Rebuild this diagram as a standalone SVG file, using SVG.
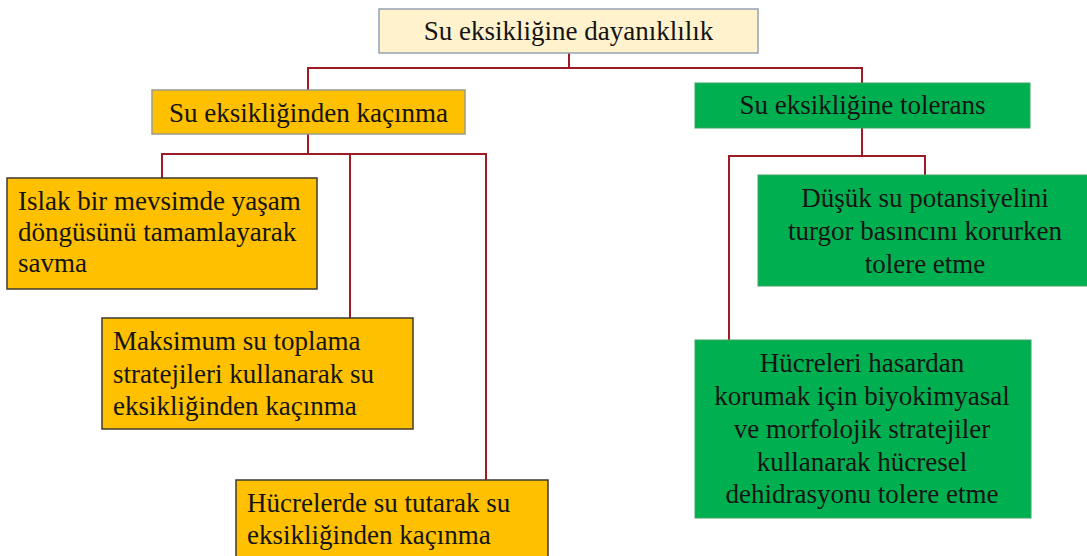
<svg xmlns="http://www.w3.org/2000/svg" width="1087" height="556" viewBox="0 0 1087 556">
<style>
text{font-family:"Liberation Serif","Times New Roman",serif;font-size:27px;fill:#141414}
.c{text-anchor:middle}
.org{fill:#FFC000;stroke:#3F3A30;stroke-width:1.5}
.grn{fill:#00B050;stroke:#3DA565;stroke-width:1}
.conn{fill:none;stroke:#9E1B25;stroke-width:2}
</style>
<rect width="1087" height="556" fill="#ffffff"/>
<g id="connectors" class="conn">
<path d="M569 53 V68 M308 90 V68 H862 V83"/>
<path d="M308 134 V154 M162 178 V154 H486 V480 M350 154 V318"/>
<path d="M862 128 V156 M729 340 V156 H925 V175"/>
</g>
<g id="root">
<rect x="379" y="9" width="379" height="44" fill="#FFF2CC" stroke="#95A3B3" stroke-width="1.5"/>
<text class="c" x="568.5" y="40">Su eksikliğine dayanıklılık</text>
</g>
<g id="avoidance">
<rect x="152" y="90" width="313" height="44" fill="#FFC000" stroke="#9C9A8A" stroke-width="1.5"/>
<text class="c" x="308.5" y="122">Su eksikliğinden kaçınma</text>
</g>
<g id="tolerance">
<rect class="grn" x="695" y="83" width="335" height="45"/>
<text class="c" x="862.5" y="114">Su eksikliğine tolerans</text>
</g>
<g id="avoid1">
<rect class="org" x="7" y="178" width="310" height="111"/>
<text x="18" y="210">Islak bir mevsimde yaşam</text>
<text x="18" y="241">döngüsünü tamamlayarak</text>
<text x="18" y="272">savma</text>
</g>
<g id="avoid2">
<rect class="org" x="102" y="318" width="311" height="111"/>
<text x="113" y="350">Maksimum su toplama</text>
<text x="113" y="383">stratejileri kullanarak su</text>
<text x="113" y="415">eksikliğinden kaçınma</text>
</g>
<g id="avoid3">
<rect class="org" x="236" y="480" width="312" height="85"/>
<text x="247" y="512">Hücrelerde su tutarak su</text>
<text x="247" y="544">eksikliğinden kaçınma</text>
</g>
<g id="tol1">
<rect class="grn" x="758" y="175" width="335" height="111"/>
<text class="c" x="925" y="207">Düşük su potansiyelini</text>
<text class="c" x="925" y="240">turgor basıncını korurken</text>
<text class="c" x="925" y="273">tolere etme</text>
</g>
<g id="tol2">
<rect class="grn" x="695" y="340" width="336" height="178"/>
<text class="c" x="862" y="372">Hücreleri hasardan</text>
<text class="c" x="862" y="405">korumak için biyokimyasal</text>
<text class="c" x="862" y="438">ve morfolojik stratejiler</text>
<text class="c" x="862" y="471">kullanarak hücresel</text>
<text class="c" x="862" y="503">dehidrasyonu tolere etme</text>
</g>
</svg>
